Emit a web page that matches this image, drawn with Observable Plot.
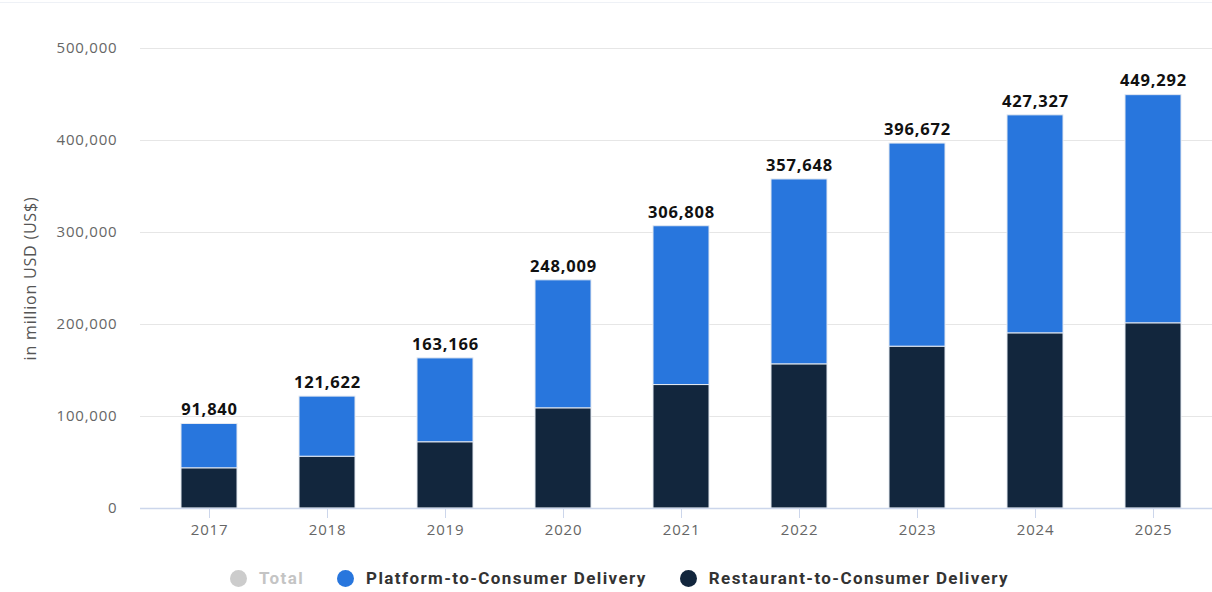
<!DOCTYPE html>
<html>
<head>
<meta charset="utf-8">
<script src="https://cdn.jsdelivr.net/npm/d3@7"></script>
<script src="https://cdn.jsdelivr.net/npm/@observablehq/plot@0.6"></script>
<style>
  html, body { margin: 0; padding: 0; background: #fff; }
  #chart { position: relative; }
  #chart svg { display: block; }
  #chart svg text { letter-spacing: 0.8px; }
  .topline { position: absolute; left: 0; right: 0; top: 2px; height: 1px; background: #eef1f6; }
  .legend { display: flex; justify-content: flex-start; align-items: center; height: 28px; padding-top: 20px; padding-left: 230px;
    font-family: "Roboto", sans-serif; letter-spacing: 1.4px;
    font-weight: bold; font-size: 17px; color: #333; }
  .legend .item { display: flex; align-items: center; margin-right: 33px; }
  .legend .dot { width: 17px; height: 17px; border-radius: 50%; margin-right: 12px; }
</style>
</head>
<body>
<div id="chart"><div class="topline"></div></div>
<div class="legend">
  <div class="item" style="color:#c4c4c4"><span class="dot" style="background:#cccccc"></span>Total</div>
  <div class="item"><span class="dot" style="background:#2876dd"></span>Platform-to-Consumer Delivery</div>
  <div class="item"><span class="dot" style="background:#12263d"></span>Restaurant-to-Consumer Delivery</div>
</div>
<script>
const years = ["2017", "2018", "2019", "2020", "2021", "2022", "2023", "2024", "2025"];
const totals = [91840, 121622, 163166, 248009, 306808, 357648, 396672, 427327, 449292];
const restaurant = [43700, 56300, 72000, 108900, 134200, 156700, 175900, 190400, 201300];
const platform = totals.map((t, i) => t - restaurant[i]);
const yTicks = [0, 100000, 200000, 300000, 400000, 500000];
const seriesNames = ["Restaurant-to-Consumer Delivery", "Platform-to-Consumer Delivery"];
const seriesColors = ["#12263d", "#2876dd"];

const long = [];
years.forEach((y, i) => {
  long.push({year: y, series: seriesNames[0], value: restaurant[i]});
  long.push({year: y, series: seriesNames[1], value: platform[i]});
});
const totalRows = years.map((y, i) => ({year: y, total: totals[i]}));

const chart = Plot.plot({
  width: 1212,
  height: 544,
  marginLeft: 140,
  marginRight: 0,
  marginTop: 48,
  marginBottom: 36,
  style: {fontFamily: "'Open Sans', sans-serif", fontSize: "15px", color: "#666", background: "transparent"},
  x: {domain: years, range: [140, 1223], paddingInner: 0.524, paddingOuter: 0.33, label: null},
  y: {domain: [0, 500000], label: null},
  color: {domain: seriesNames, range: seriesColors},
  marks: [
    Plot.gridY(yTicks, {stroke: "#e6e6e6", strokeOpacity: 1}),
    Plot.axisY(yTicks, {tickFormat: d3.format(","), tickSize: 0, tickPadding: 23, fill: "#666", label: null, fontSize: 15}),
    Plot.text(["in million USD (US$)"], {frameAnchor: "left", rotate: -90, dx: -110, textAnchor: "middle", fill: "#555", fontSize: 16}),
    Plot.barY(long, {x: "year", y: "value", fill: "series", stroke: "#e4e9f1", strokeWidth: 1}),
    Plot.ruleY([0], {stroke: "#ccd6eb", strokeWidth: 1.5}),
    Plot.axisX({tickSize: 10, stroke: "#ccd6eb", fill: "#666", tickPadding: 6, label: null, fontSize: 15}),
    Plot.text(totalRows, {x: "year", y: "total", text: d => d3.format(",")(d.total), dy: -14, fontWeight: "bold", fill: "#111", fontSize: 16.5})
  ]
});
document.getElementById("chart").append(chart);
</script>
</body>
</html>
